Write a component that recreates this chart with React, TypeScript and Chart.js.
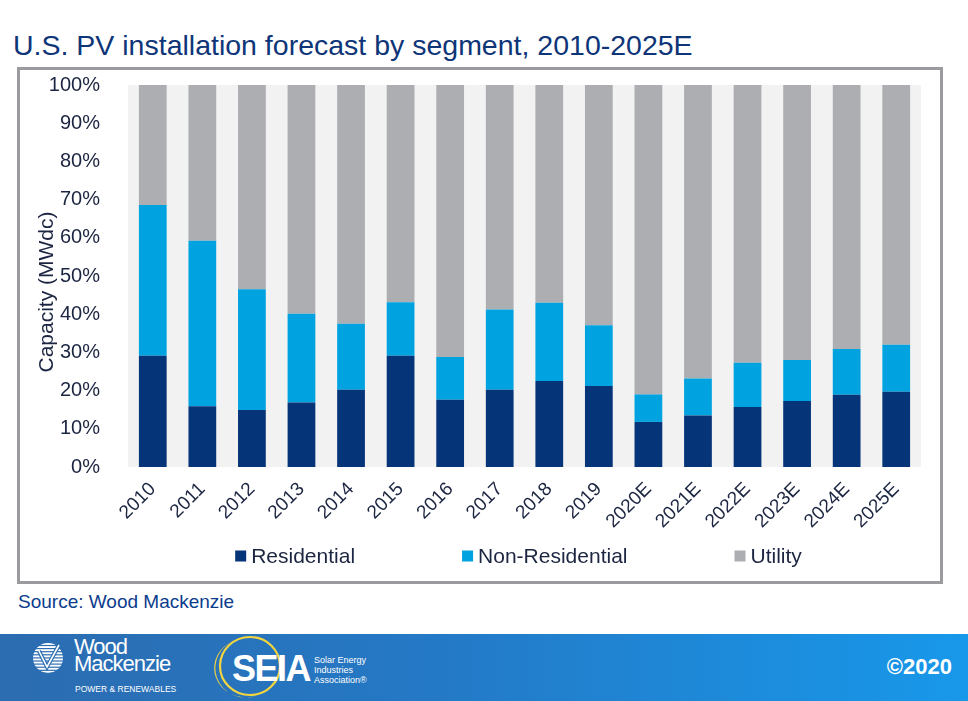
import React, { useEffect, useRef } from "react";
import { Chart, registerables } from "chart.js";

Chart.register(...registerables);

const categories = ["2010","2011","2012","2013","2014","2015","2016","2017","2018","2019","2020E","2021E","2022E","2023E","2024E","2025E"];
const residential = [29.1, 15.9, 14.9, 16.9, 20.2, 29.1, 17.6, 20.2, 22.5, 21.2, 11.8, 13.5, 15.7, 17.3, 18.9, 19.7];
const nonResidential = [39.5, 43.3, 31.6, 23.2, 17.3, 14.0, 11.2, 21.0, 20.5, 15.9, 7.2, 9.7, 11.6, 10.7, 12.0, 12.3];
const utility = [31.4, 40.8, 53.5, 59.9, 62.5, 56.9, 71.2, 58.8, 57.0, 62.9, 81.0, 76.8, 72.7, 72.0, 69.1, 68.0];
const seriesNames = ["Residential", "Non-Residential", "Utility"];
const seriesColors = ["#063478", "#00a3e0", "#adaeb2"];
const yTicks = [0, 10, 20, 30, 40, 50, 60, 70, 80, 90, 100];
const yTitle = "Capacity (MWdc)";
const titleText = "U.S. PV installation forecast by segment, 2010-2025E";
const sourceText = "Source: Wood Mackenzie";

const FONT = '"Liberation Sans", Arial, Helvetica, sans-serif';
const TEXT_COLOR = "#1c2541";

const plotBg = {
  id: "plotBg",
  beforeDraw(chart: any) {
    const { ctx, chartArea } = chart;
    if (!chartArea) return;
    ctx.save();
    ctx.fillStyle = "#f2f2f2";
    ctx.fillRect(chartArea.left, chartArea.top, chartArea.right - chartArea.left, chartArea.bottom - chartArea.top);
    ctx.restore();
  },
};

const extras = {
  id: "extras",
  afterDraw(chart: any) {
    const { ctx, chartArea } = chart;
    const ds = chart.data.datasets;
    ctx.save();
    // legend
    ctx.font = `21px ${FONT}`;
    ctx.textBaseline = "middle";
    ctx.textAlign = "left";
    const box = 11, gapText = 5, gapItems = 107;
    const widths = ds.map((d: any) => box + gapText + ctx.measureText(d.label).width);
    const total = widths.reduce((a: number, b: number) => a + b, 0) + gapItems * (ds.length - 1);
    let x = (chartArea.left + chartArea.right) / 2 - total / 2 - 6;
    const y = chart.height - 25;
    ds.forEach((d: any, i: number) => {
      ctx.fillStyle = d.backgroundColor;
      ctx.fillRect(x, y - 5.5, box, box);
      ctx.fillStyle = TEXT_COLOR;
      ctx.fillText(d.label, x + box + gapText, y + 1);
      x += widths[i] + gapItems;
    });
    // y axis title
    ctx.translate(27, (chartArea.top + chartArea.bottom) / 2 + 16);
    ctx.rotate(-Math.PI / 2);
    ctx.textAlign = "center";
    ctx.textBaseline = "middle";
    ctx.font = `21px ${FONT}`;
    ctx.fillStyle = TEXT_COLOR;
    ctx.fillText(yTitle, 0, 0);
    ctx.restore();
  },
};

function ChartBox() {
  const ref = useRef<HTMLCanvasElement | null>(null);
  useEffect(() => {
    if (!ref.current) return;
    const chart = new Chart(ref.current, {
      type: "bar",
      data: {
        labels: categories,
        datasets: [residential, nonResidential, utility].map((vals, i) => ({
          label: seriesNames[i],
          data: vals,
          backgroundColor: seriesColors[i],
          borderWidth: 0,
          barPercentage: 0.56,
          categoryPercentage: 1,
        })),
      },
      options: {
        animation: false,
        responsive: false,
        maintainAspectRatio: false,
        layout: { padding: { top: 14, right: 19, left: 10, bottom: 0 } },
        plugins: { legend: { display: false }, tooltip: { enabled: false }, title: { display: false } },
        scales: {
          x: {
            stacked: true,
            grid: { display: false },
            border: { display: false },
            ticks: {
              color: TEXT_COLOR,
              font: { family: FONT, size: 19 },
              minRotation: 45,
              maxRotation: 45,
              padding: 3,
              autoSkip: false,
            },
            afterFit(scale: any) { scale.height = 114; },
          },
          y: {
            stacked: true,
            min: 0,
            max: 100,
            grid: { display: false },
            border: { display: false },
            afterBuildTicks(scale: any) { scale.ticks = yTicks.map((v) => ({ value: v })); },
            ticks: {
              color: TEXT_COLOR,
              font: { family: FONT, size: 20 },
              padding: 20,
              callback: (v: any) => `${v}%`,
            },
            afterFit(scale: any) { scale.width = 98; },
          },
        },
      },
      plugins: [plotBg, extras],
    });
    return () => chart.destroy();
  }, []);
  return <canvas ref={ref} width={920} height={528} style={{ position: "absolute", left: 20, top: 53, width: 920, height: 528 }} />;
}

function Banner() {
  const stripes = [] as any[];
  for (let i = 0; i < 10; i++) {
    stripes.push(<rect key={i} x={33} y={643 + i * 3.1} width={30} height={1.9} fill="#ffffff" />);
  }
  return (
    <div style={{ position: "absolute", left: 0, top: 634, width: 968, height: 67, background: "linear-gradient(90deg, #2c6cb0 0%, #2479c6 45%, #1898ea 100%)" }}>
      <svg width={968} height={67} viewBox="0 634 968 67" style={{ position: "absolute", left: 0, top: 0 }}>
        <defs>
          <clipPath id="wmc"><circle cx={48} cy={658} r={15} /></clipPath>
        </defs>
        <g clipPath="url(#wmc)">{stripes}</g>
        <path d="M39 651 L47 667 L59 645" stroke="#2a6db2" strokeWidth={4} fill="none" />
        <path d="M39 651 L47 667 L59 645" stroke="#ffffff" strokeWidth={1.6} fill="none" />
        <ellipse cx={250} cy={666} rx={30} ry={29} fill="none" stroke="#f4d53d" strokeWidth={2.2} />
        <path d="M236 640 A30 29 0 0 0 256 696 A27 25 0 0 1 236 640 Z" fill="#f4d53d" />
      </svg>
      <div style={{ position: "absolute", left: 74, top: 4, color: "#fff", fontFamily: FONT, fontSize: 22, lineHeight: "17px", letterSpacing: -1 }}>Wood<br />Mackenzie</div>
      <div style={{ position: "absolute", left: 75, top: 50, color: "#fff", fontFamily: FONT, fontSize: 8.5, lineHeight: "10px" }}>POWER &amp; RENEWABLES</div>
      <div style={{ position: "absolute", left: 232, top: 17, color: "#fff", fontFamily: FONT, fontWeight: 700, fontSize: 36, lineHeight: "36px", letterSpacing: -1.5 }}>SEIA</div>
      <div style={{ position: "absolute", left: 314, top: 21, color: "#fff", fontFamily: FONT, fontSize: 9, lineHeight: "10px" }}>Solar Energy<br />Industries<br />Association®</div>
      <div style={{ position: "absolute", right: 16, top: 20, color: "#fff", fontFamily: FONT, fontWeight: 700, fontSize: 22, lineHeight: "26px" }}>©2020</div>
    </div>
  );
}

export default function App() {
  return (
    <div style={{ position: "absolute", left: 0, top: 0, width: 968, height: 701, background: "#fff", overflow: "hidden", fontFamily: FONT }}>
      <div style={{ position: "absolute", left: 13, top: 31, color: "#0e3578", fontSize: 28.5, lineHeight: "28px", whiteSpace: "nowrap" }}>{titleText}</div>
      <div style={{ position: "absolute", left: 17, top: 67, width: 920, height: 511, border: "3px solid #9b9b9f" }} />
      <ChartBox />
      <div style={{ position: "absolute", left: 18, top: 592, color: "#0b3c8c", fontSize: 19, lineHeight: "19px", whiteSpace: "nowrap" }}>{sourceText}</div>
      <Banner />
    </div>
  );
}
